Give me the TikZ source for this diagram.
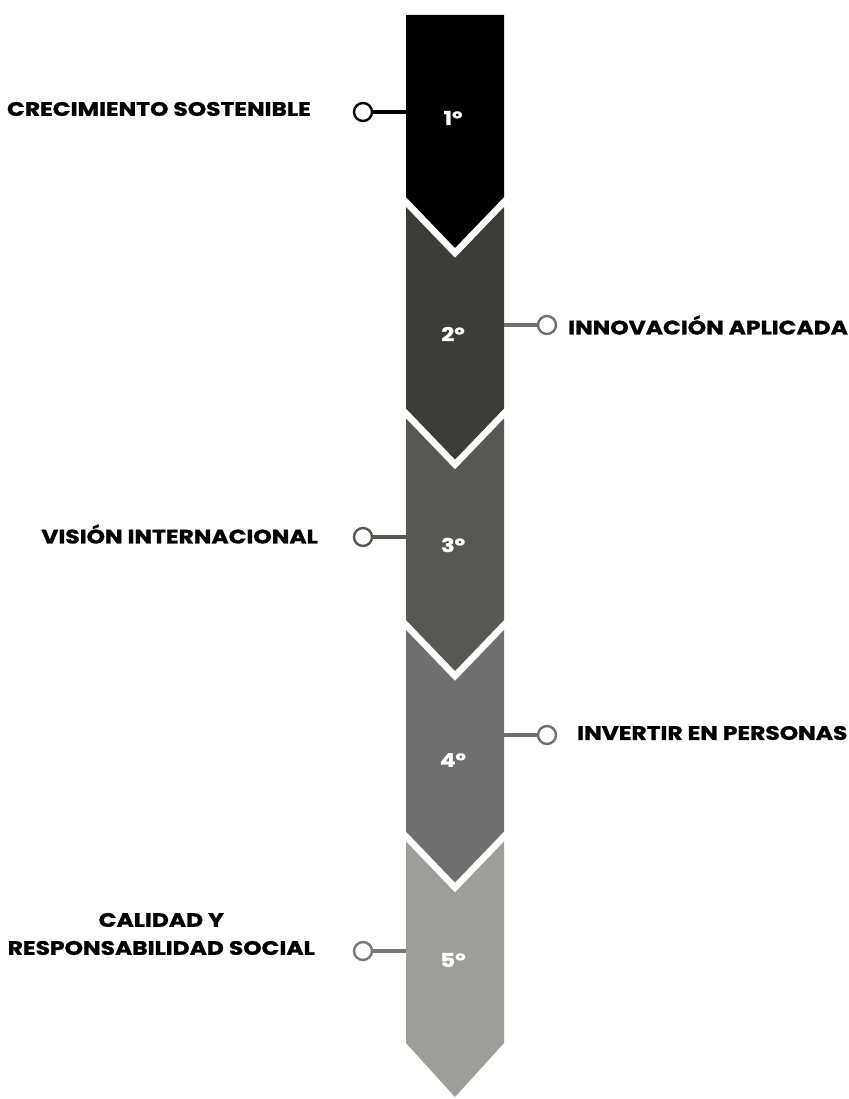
\documentclass[tikz,border=0pt]{standalone}
\usepackage{fontspec}
\setmainfont{Poppins}
\newfontfamily\lblfont{Poppins}[FakeStretch=1.2,FakeBold=1.3]
\usetikzlibrary{calc,positioning}
\definecolor{Step1}{HTML}{000000}
\definecolor{Step2}{HTML}{3C3C3B}
\definecolor{Step3}{HTML}{575756}
\definecolor{Step4}{HTML}{706F6F}
\definecolor{Step5}{HTML}{9D9D9C}
\tikzset{seg/.style={draw=none},num/.style={text=white,font=\lblfont\fontsize{19}{19}\selectfont\bfseries,inner sep=0pt},dot/.style={circle,draw,fill=white,line width=2.4pt,minimum size=18pt,inner sep=0pt},conn/.style={line width=4pt},lbl/.style={font=\lblfont\fontsize{19.5}{28}\selectfont\bfseries,inner sep=0pt,align=center}}

\begin{document}
\begin{tikzpicture}[x=1pt,y=-1pt]
      \useasboundingbox (0,0) rectangle (848,1099);
      \fill[Step1](406,15)--(504,15)--(504,197)--(455,248)--(406,197)--cycle;
      \fill[Step2](406,207)--(455,258)--(504,207)--(504,408.5)--(455,459.5)--(406,408.5)--cycle;
      \fill[Step3](406,418.5)--(455,469.5)--(504,418.5)--(504,620)--(455,671)--(406,620)--cycle;
      \fill[Step4](406,630)--(455,681)--(504,630)--(504,831.5)--(455,882.5)--(406,831.5)--cycle;
      \fill[Step5](406,841.5)--(455,892.5)--(504,841.5)--(504,1043)--(455,1097)--(406,1043)--cycle;
      \node[num](n1) at (453,118){1º};
      \node[num](n2) at (453,334){2º};
      \node[num](n3) at (453,545){3º};
      \node[num](n4) at (453,760){4º};
      \node[num](n5) at (453,960){5º};
      \coordinate(e1) at (406,112);\coordinate(e2) at (504,325);\coordinate(e3) at (406,537);\coordinate(e4) at (504,735);\coordinate(e5) at (406,951);
      \node[dot,draw=Step1](d1) at (363,112){};
      \node[dot,draw=Step4](d2) at (547,325){};
      \node[dot,draw=Step3](d3) at (363,537){};
      \node[dot,draw=Step4](d4) at (547,735){};
      \node[dot,draw=Step4!80!Step5](d5) at (363,951){};
      \draw[conn,Step1](d1)--(e1);\draw[conn,Step4](d2)--(e2);\draw[conn,Step3](d3)--(e3);\draw[conn,Step4](d4)--(e4);\draw[conn,Step4!80!Step5](d5)--(e5);
      \node[lbl,anchor=east](l1) at (311,109){CRECIMIENTO SOSTENIBLE};
      \node[lbl,anchor=west](l2) at (568,325){INNOVACIÓN APLICADA};
      \node[lbl,anchor=east](l3) at (318,534){VISIÓN INTERNACIONAL};
      \node[lbl,anchor=west](l4) at (577,733){INVERTIR EN PERSONAS};
      \node[lbl,anchor=east](l5) at (315,934){CALIDAD Y\\RESPONSABILIDAD SOCIAL};
    \end{tikzpicture}
\end{document}
